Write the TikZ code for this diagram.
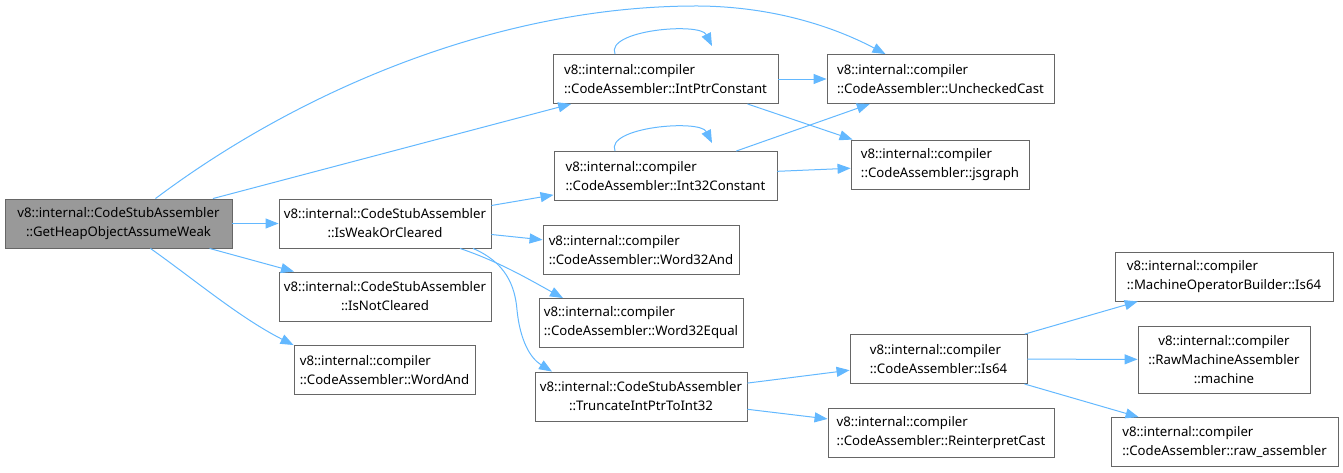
\documentclass[tikz,border=0pt]{standalone}
\usepackage{fontspec}
\setmainfont{Noto Sans}
\usepackage{xcolor}
\definecolor{edgeblue}{RGB}{99,184,255}
\definecolor{boxgray}{RGB}{102,102,102}
\definecolor{rootgray}{RGB}{153,153,153}
\usepackage{tikz}
\usetikzlibrary{arrows.meta,positioning}

\begin{document}
\begin{tikzpicture}[
  x=1pt, y=-1pt,
  fnbox/.style={rectangle, draw=boxgray, line width=0.9pt, fill=white,
                minimum height=49pt, inner sep=0pt, align=left,
                font=\fontsize{13.2}{19}\selectfont},
  csabox/.style={fnbox, align=center},
  rootbox/.style={csabox, fill=rootgray},
  calarr/.style={-{Triangle[length=13pt,width=10pt]}, line width=1pt, color=edgeblue}
]
\useasboundingbox (0,0) rectangle (1343,472);

\node[rootbox, minimum width=227pt] (ghoaw) at (118.5,223.5) {v8::internal::CodeStubAssembler\\::GetHeapObjectAssumeWeak};

\node[csabox, minimum width=212pt] (iswoc) at (385,223.5) {v8::internal::CodeStubAssembler\\::IsWeakOrCleared};
\node[csabox, minimum width=212pt] (isnc)  at (385,296.5) {v8::internal::CodeStubAssembler\\::IsNotCleared};
\node[fnbox, minimum width=181pt]  (wand)  at (384.5,370) {v8::internal::compiler\\::CodeAssembler::WordAnd};

\node[fnbox, minimum width=225pt] (iptrc)  at (665.5,79)  {v8::internal::compiler\\::CodeAssembler::IntPtrConstant};
\node[fnbox, minimum width=223pt] (i32c)   at (665.5,176) {v8::internal::compiler\\::CodeAssembler::Int32Constant};
\node[fnbox, minimum width=196pt] (w32and) at (641,250)   {v8::internal::compiler\\::CodeAssembler::Word32And};
\node[fnbox, minimum width=204pt] (w32eq)  at (641,323)   {v8::internal::compiler\\::CodeAssembler::Word32Equal};
\node[csabox, minimum width=212pt] (trunc) at (641,396.5) {v8::internal::CodeStubAssembler\\::TruncateIntPtrToInt32};

\node[fnbox, minimum width=227pt] (unchk) at (940.5,79)   {v8::internal::compiler\\::CodeAssembler::UncheckedCast};
\node[fnbox, minimum width=178pt] (jsg)   at (940,164.5)  {v8::internal::compiler\\::CodeAssembler::jsgraph};
\node[fnbox, minimum width=177pt] (is64)  at (938.5,359)  {v8::internal::compiler\\::CodeAssembler::Is64};
\node[fnbox, minimum width=226pt] (reint) at (941,432.5)  {v8::internal::compiler\\::CodeAssembler::ReinterpretCast};

\node[fnbox, minimum width=218pt] (mobis64) at (1224,276.5) {v8::internal::compiler\\::MachineOperatorBuilder::Is64};
\node[csabox, minimum width=172pt, minimum height=67pt] (machine) at (1224,359.5) {v8::internal::compiler\\::RawMachineAssembler\\::machine};
\node[fnbox, minimum width=227pt] (rawasm) at (1224.5,442) {v8::internal::compiler\\::CodeAssembler::raw\_assembler};

%% arrows
\draw[calarr] (ghoaw) -- (iswoc);
\draw[calarr] (ghoaw) -- (isnc);
\draw[calarr] (ghoaw) -- (iptrc);
\draw[calarr] ([xshift=-82pt]ghoaw.south east) .. controls (195,280) and (240,318) .. (wand.north west);
\draw[calarr] ([xshift=37pt]ghoaw.north) .. controls (300,90) and (500,5) .. (700,6)
              .. controls (780,7) and (840,30) .. ([xshift=-55pt]unchk.north);

\draw[calarr] (iswoc) -- (i32c);
\draw[calarr] (iswoc) -- (w32and);
\draw[calarr] ([xshift=75pt]iswoc.south) .. controls (500,262) and (530,280) .. ([xshift=-78pt]w32eq.north);
\draw[calarr] ([xshift=88pt]iswoc.south) .. controls (505,262) and (515,285) .. (517,310)
              .. controls (520,340) and (530,358) .. ([xshift=-89pt]trunc.north);

\draw[calarr] ([xshift=-50.5pt]iptrc.north) .. controls (605,30) and (700,22) .. ([xshift=46.5pt,yshift=8pt]iptrc.north);
\draw[calarr] (iptrc) -- (unchk);
\draw[calarr] ([xshift=-31pt]iptrc.south east) -- ([xshift=2pt]jsg.north west);

\draw[calarr] ([xshift=-50.5pt]i32c.north) .. controls (605,127) and (700,119) .. ([xshift=46.5pt,yshift=8pt]i32c.north);
\draw[calarr] (i32c) -- (unchk);
\draw[calarr] (i32c) -- (jsg);

\draw[calarr] (trunc) -- (is64);
\draw[calarr] (trunc) -- (reint);

\draw[calarr] (is64) -- (mobis64);
\draw[calarr] (is64) -- (machine);
\draw[calarr] (is64) -- (rawasm);

\end{tikzpicture}
\end{document}
